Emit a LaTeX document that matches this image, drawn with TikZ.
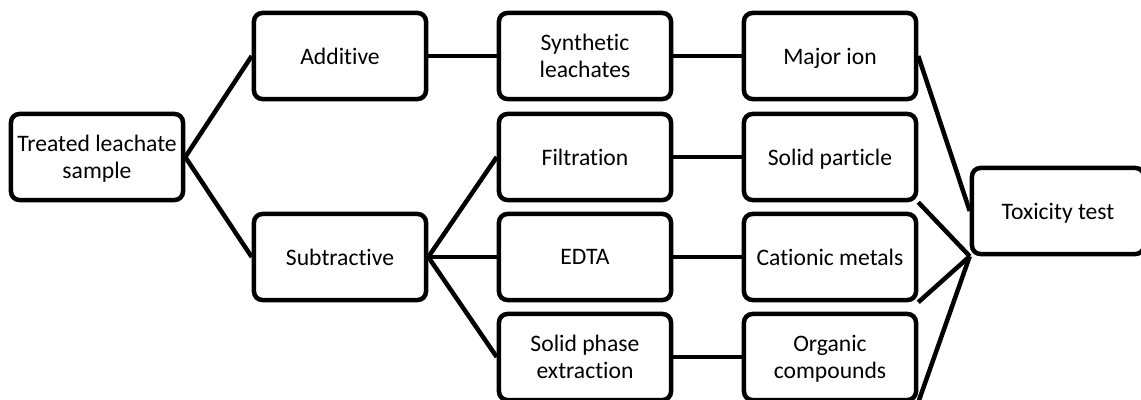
\documentclass[tikz,border=0pt]{standalone}
\usepackage{fontspec}
\setmainfont[Ligatures={NoCommon}]{Carlito}
\usepackage{tikz}
\tikzset{
	x=0.025cm,y=0.025cm,
}
\tikzstyle{box}=[draw,line width=3.2pt,rounded corners=6pt,minimum width=4.3cm,
    minimum height=2.15cm,align=center,inner sep=0pt,text depth=0pt,
    font=\fontsize{16.8}{19}\selectfont]
\tikzstyle{link}=[line width=3.2pt]

\begin{document}
\begin{tikzpicture}
      \useasboundingbox (0,0) rectangle (1141,400);
      \node[box] (sample) at (97,243) {Treated leachate\\sample};
      \node[box] (add) at (340,344) {Additive};
      \node[box] (sub) at (340,143) {Subtractive};
      \node[box] (synth) at (585,344) {Synthetic\\leachates};
      \node[box] (filt) at (585,243) {Filtration};
      \node[box] (edta) at (585,143) {EDTA};
      \node[box] (spe) at (585,43) {Solid phase\\extraction};
      \node[box] (ion) at (830,344) {Major ion};
      \node[box] (part) at (830,243) {Solid particle};
      \node[box] (metal) at (830,143) {Cationic metals};
      \node[box] (org) at (830,43) {Organic\\compounds};
      \node[box] (tox) at (1058,189) {Toxicity test};
      % branches
      \draw[link] (sample.east)--(add.west);
      \draw[link] (sample.east)--(sub.west);
      \draw[link] (add)--(synth);
      \draw[link] (synth)--(ion);
      \draw[link] (sub.east)--(filt.west);
      \draw[link] (sub.east)--(edta.west);
      \draw[link] (sub.east)--(spe.west);
      \draw[link] (filt)--(part);
      \draw[link] (edta)--(metal);
      \draw[link] (spe)--(org);
      % into the test
      \draw[link] (ion.east)--(tox.west);
      \draw[link] (part.south east)--(tox.south west);
      \draw[link] (metal.south east)--(tox.south west);
      \draw[link] (org.south east)--(tox.south west);
    \end{tikzpicture}
\end{document}
